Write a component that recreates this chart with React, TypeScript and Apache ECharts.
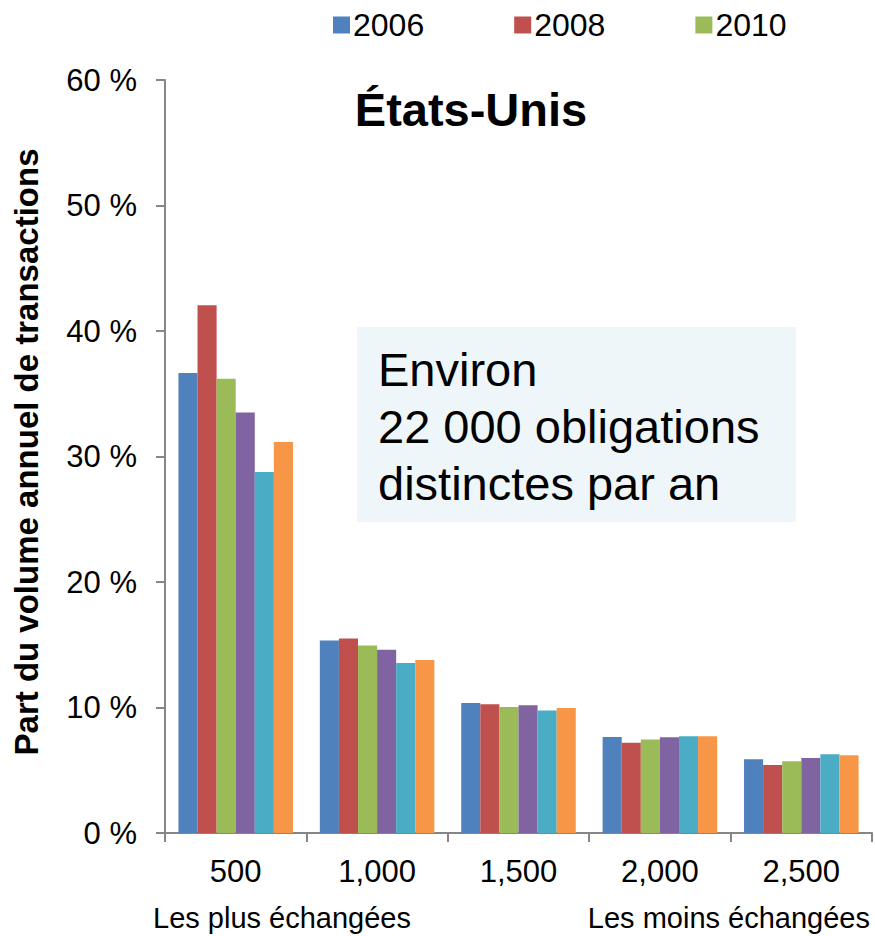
import React, { useEffect, useRef } from "react";
import * as echarts from "echarts";

const categories = ["500", "1,000", "1,500", "2,000", "2,500"];
const seriesNames = ["2006", "2008", "2010", "Série 4", "Série 5", "Série 6"];
const legendNames = ["2006", "2008", "2010"];
const colors = ["#4F81BD", "#C0504D", "#9BBB59", "#8064A2", "#4BACC6", "#F79646"];
const s1 = [36.65, 15.34, 10.36, 7.65, 5.87];
const s2 = [42.05, 15.5, 10.25, 7.2, 5.42];
const s3 = [36.2, 14.95, 10.04, 7.45, 5.71];
const s4 = [33.5, 14.6, 10.17, 7.62, 5.97];
const s5 = [28.76, 13.55, 9.77, 7.7, 6.27];
const s6 = [31.15, 13.78, 9.96, 7.7, 6.19];
const seriesValues = [s1, s2, s3, s4, s5, s6];
const yTicks = [0, 10, 20, 30, 40, 50, 60];

const FONT = "'Liberation Sans', Arial, sans-serif";

export default function App() {
  const ref = useRef<HTMLDivElement>(null);
  useEffect(() => {
    if (!ref.current) return;
    const chart = echarts.init(ref.current, null, { renderer: "svg" });
    const axisColor = "#868686";
    chart.setOption({
      animation: false,
      backgroundColor: "#ffffff",
      textStyle: { fontFamily: FONT },
      legend: {
        data: legendNames,
        left: 328,
        top: 4,
        itemWidth: 17,
        itemHeight: 17,
        itemGap: 90,
        icon: "rect",
        textStyle: { fontSize: 32, color: "#000", fontFamily: FONT, padding: [0, 0, 0, -2] },
      },
      grid: { left: 165, right: 3, top: 80, bottom: 103, containLabel: false },
      xAxis: {
        type: "category",
        data: categories,
        axisLine: { lineStyle: { color: axisColor, width: 2 } },
        axisTick: { show: true, length: 9, lineStyle: { color: axisColor, width: 2 } },
        axisLabel: { fontSize: 31, color: "#000", margin: 23, fontFamily: FONT },
      },
      yAxis: {
        type: "value",
        min: yTicks[0],
        max: yTicks[yTicks.length - 1],
        interval: 10,
        splitLine: { show: false },
        axisLine: { show: true, lineStyle: { color: axisColor, width: 2 } },
        axisTick: { show: true, length: 9, lineStyle: { color: axisColor, width: 2 } },
        axisLabel: {
          fontSize: 31,
          color: "#000",
          margin: 28,
          fontFamily: FONT,
          formatter: (v: number) => `${v} %`,
        },
      },
      series: seriesValues.map((vals, i) => ({
        name: seriesNames[i],
        type: "bar",
        data: vals,
        barGap: "0%",
        barCategoryGap: "19%",
        itemStyle: { color: colors[i] },
      })),
      graphic: [
        {
          type: "rect",
          shape: { x: 357, y: 327, width: 439, height: 195 },
          style: { fill: "#EEF6F9" },
          z: 10,
        },
        {
          type: "text",
          x: 378,
          y: 426,
          z: 11,
          style: {
            text: "Environ\n22 000 obligations\ndistinctes par an",
            fontSize: 47,
            lineHeight: 57,
            fill: "#000",
            fontFamily: FONT,
            textAlign: "left",
            textVerticalAlign: "middle",
          },
        },
        {
          type: "text",
          x: 471,
          y: 109,
          z: 11,
          style: {
            text: "États-Unis",
            fontSize: 47,
            fontWeight: "bold",
            fill: "#000",
            fontFamily: FONT,
            textAlign: "center",
            textVerticalAlign: "middle",
          },
        },
        {
          type: "text",
          x: 26,
          y: 452,
          rotation: Math.PI / 2,
          z: 11,
          style: {
            text: "Part du volume annuel de transactions",
            fontSize: 33,
            fontWeight: "bold",
            fill: "#000",
            fontFamily: FONT,
            textAlign: "center",
            textVerticalAlign: "middle",
          },
        },
        {
          type: "text",
          x: 153,
          y: 918,
          z: 11,
          style: {
            text: "Les plus échangées",
            fontSize: 29,
            fill: "#000",
            fontFamily: FONT,
            textAlign: "left",
            textVerticalAlign: "middle",
          },
        },
        {
          type: "text",
          x: 870,
          y: 918,
          z: 11,
          style: {
            text: "Les moins échangées",
            fontSize: 29,
            fill: "#000",
            fontFamily: FONT,
            textAlign: "right",
            textVerticalAlign: "middle",
          },
        },
      ],
    });
    return () => chart.dispose();
  }, []);
  return (
    <div
      ref={ref}
      style={{ position: "fixed", left: 0, top: 0, width: 875, height: 936 }}
    />
  );
}
